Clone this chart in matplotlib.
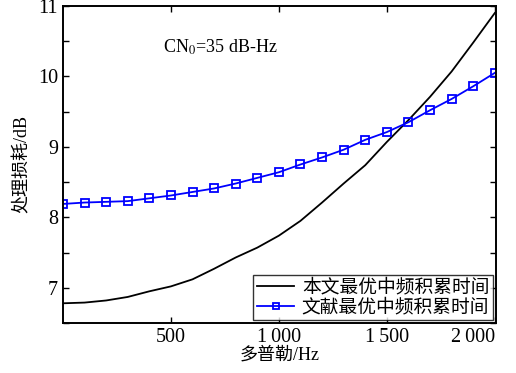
import matplotlib
matplotlib.use("Agg")
import matplotlib.pyplot as plt
from matplotlib.ticker import MultipleLocator, FixedLocator

# --- Data ---
doppler = [0, 100, 200, 300, 400, 500, 600, 700, 800, 900, 1000,
           1100, 1200, 1300, 1400, 1500, 1600, 1700, 1800, 1900, 2000]
loss_ours = [6.78, 6.79, 6.82, 6.87, 6.95, 7.02, 7.12, 7.27, 7.43, 7.57, 7.74,
             7.95, 8.21, 8.48, 8.74, 9.07, 9.38, 9.71, 10.07, 10.48, 10.90]
loss_ref = [8.19, 8.21, 8.22, 8.23, 8.27, 8.31, 8.36, 8.41, 8.48, 8.56, 8.64,
            8.75, 8.85, 8.96, 9.10, 9.21, 9.35, 9.52, 9.68, 9.86, 10.05]
x_ticks = [500, 1000, 1500, 2000]
x_tick_labels = ["500", "1\u2009000", "1\u2009500", "2\u2009000"]
legend_labels = ["本文最优中频积累时间", "文献最优中频积累时间"]

FAM = ["Liberation Serif", "Noto Sans CJK SC", "DejaVu Sans"]
plt.rcParams['font.family'] = FAM
plt.rcParams['mathtext.fontset'] = 'stix'

fig = plt.figure(figsize=(5.16, 3.73), dpi=100)
ax = fig.add_axes([0.122, 0.134, 0.839, 0.850])

ax.plot(doppler, loss_ours, color='black', lw=1.3, label=legend_labels[0])
ax.plot(doppler, loss_ref, color='blue', lw=1.3, marker='s', markersize=6,
        markerfacecolor='none', markeredgecolor='blue', markeredgewidth=1.3,
        label=legend_labels[1])

ax.set_xlim(0, 2005)
ax.set_ylim(6.5, 11)
ax.xaxis.set_major_locator(FixedLocator(x_ticks))
ax.set_xticklabels(x_tick_labels)
ax.yaxis.set_major_locator(MultipleLocator(1))
ax.yaxis.set_minor_locator(MultipleLocator(0.5))
ax.tick_params(which='both', direction='in', top=True, right=True,
               labelsize=14.5, width=1.0)
ax.tick_params(which='major', length=4)
ax.tick_params(which='minor', length=4)
for s in ax.spines.values():
    s.set_linewidth(1.4)
# keep the last x label inside the canvas
ax.get_xticklabels()[-1].set_horizontalalignment('right')
ax.get_xticklabels()[-1].set_x(2005)

ax.set_xlabel("多普勒/Hz", fontsize=13, labelpad=0)
ax.set_ylabel("处理损耗/dB", fontsize=13, labelpad=5)

ax.text(0.23, 0.87, "CN$_0$=35 dB-Hz", transform=ax.transAxes,
        fontsize=13, ha='left', va='center')

leg = ax.legend(loc='lower right', fontsize=13.5, frameon=True, fancybox=False,
                edgecolor='black', borderpad=0.2, handlelength=2.0,
                handletextpad=0.4, borderaxespad=0.15, labelspacing=0.1,
                markerscale=0.7)
leg.get_frame().set_linewidth(1.0)

fig.savefig("out.png", dpi=100)
